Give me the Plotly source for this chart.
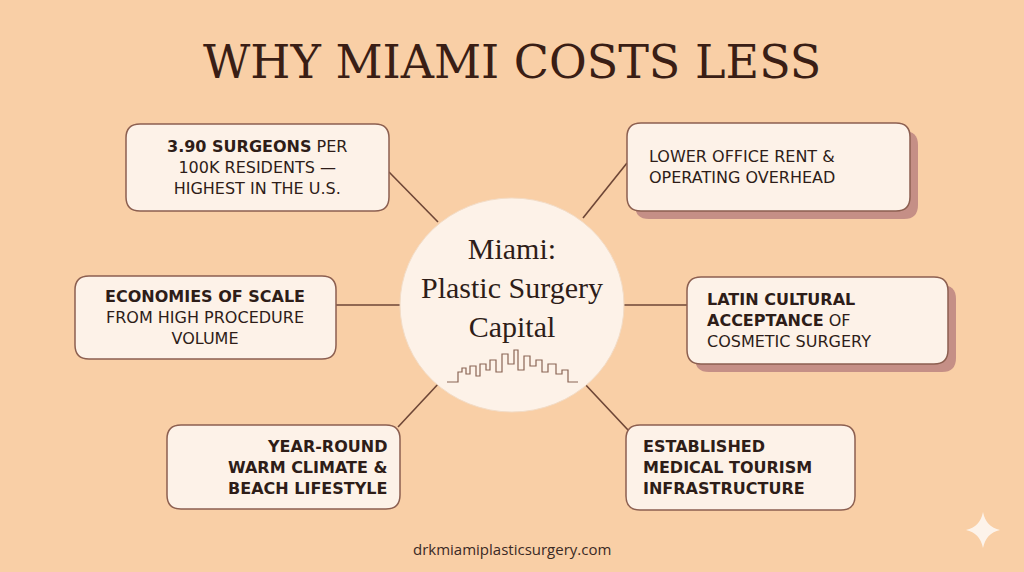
import plotly.graph_objects as go

W, H = 1024, 572
BG = "#f9cfa6"
INK = "#2e1d18"
EDGE = "#8c5f50"
FILL = "#fdf2e8"
SHADOW = "#c58f86"

title = "WHY MIAMI COSTS LESS"
center_lines = ["Miami:", "Plastic Surgery", "Capital"]
footer = "drkmiamiplasticsurgery.com"

# box texts (bold part first, then regular)
box_lines = [
    ["<b>3.90 SURGEONS</b> PER", "100K RESIDENTS —", "HIGHEST IN THE U.S."],
    ["LOWER OFFICE RENT &", "OPERATING OVERHEAD"],
    ["<b>ECONOMIES OF SCALE</b>", "FROM HIGH PROCEDURE", "VOLUME"],
    ["<b>LATIN CULTURAL</b>", "<b>ACCEPTANCE</b> OF", "COSMETIC SURGERY"],
    ["<b>YEAR-ROUND</b>", "<b>WARM CLIMATE &</b>", "<b>BEACH LIFESTYLE</b>"],
    ["<b>ESTABLISHED</b>", "<b>MEDICAL TOURISM</b>", "<b>INFRASTRUCTURE</b>"],
]
# layout: x0, y0, x1, y1, shadow, text anchor x, align
box_geo = [
    (126, 124, 389, 211, False, 257, "center"),
    (627, 123, 910, 211, True, 647, "left"),
    (75, 276, 336, 359, False, 205, "center"),
    (687, 277, 948, 364, True, 705, "left"),
    (167, 425, 400, 509, False, 389, "right"),
    (626, 425, 855, 510, False, 641, "left"),
]
connectors = [
    ((389, 172), (438, 222)),
    ((627, 163), (583, 218)),
    ((336, 305), (401, 305)),
    ((623, 305), (687, 305)),
    ((440, 382), (398, 427)),
    ((583, 382), (628, 430)),
]
skyline_x = [447, 458, 458, 462, 462, 466, 466, 470, 470, 476, 476, 480, 480, 486, 486, 490, 490, 496, 496,
             502, 502, 508, 508, 514, 514, 518, 518, 524, 524, 530, 530, 536, 536, 542, 542, 548, 548, 556,
             556, 562, 562, 568, 568, 578]
skyline_y = [382, 382, 372, 372, 368, 368, 374, 374, 366, 366, 376, 376, 364, 364, 370, 370, 360, 360, 372,
             372, 354, 354, 364, 364, 350, 350, 370, 370, 356, 356, 366, 366, 360, 360, 372, 372, 364, 364,
             374, 374, 370, 370, 382, 382]


def rrect(x0, y0, x1, y1, r=14):
    return (f"M{x0+r},{y0} L{x1-r},{y0} Q{x1},{y0} {x1},{y0+r} L{x1},{y1-r} Q{x1},{y1} {x1-r},{y1} "
            f"L{x0+r},{y1} Q{x0},{y1} {x0},{y1-r} L{x0},{y0+r} Q{x0},{y0} {x0+r},{y0} Z")


fig = go.Figure()
shapes = []
annotations = []

for (a, b) in connectors:
    shapes.append(dict(type="line", x0=a[0], y0=a[1], x1=b[0], y1=b[1], layer="below",
                       line=dict(color="#6e4636", width=1.6)))

shapes.append(dict(type="circle", x0=400, y0=198, x1=624, y1=412, layer="below",
                   fillcolor=FILL, line=dict(color="#f3dcc6", width=1)))

for lines, (x0, y0, x1, y1, sh, tx, al) in zip(box_lines, box_geo):
    if sh:
        shapes.append(dict(type="path", path=rrect(x0 + 8, y0 + 8, x1 + 8, y1 + 8), fillcolor=SHADOW, line=dict(width=0)))
    shapes.append(dict(type="path", path=rrect(x0, y0, x1, y1), fillcolor=FILL, line=dict(color=EDGE, width=1.5)))
    annotations.append(dict(x=tx, y=(y0 + y1) / 2, text="<br>".join(lines), showarrow=False, xanchor=al,
                            yanchor="middle", align=al, font=dict(family="DejaVu Sans", size=16, color=INK)))

# sparkle
shapes.append(dict(type="path",
                   path="M983,512 Q986,527 1000,530 Q986,533 983,548 Q980,533 966,530 Q980,527 983,512 Z",
                   fillcolor="#fdf3ea", line=dict(width=0)))

fig.add_trace(go.Scatter(x=skyline_x, y=skyline_y, mode="lines", line=dict(color="#8a6454", width=1.2),
                         hoverinfo="skip"))

annotations.append(dict(x=512, y=62, text=title, showarrow=False,
                        font=dict(family="DejaVu Serif", size=46, color="#3a1e15")))
annotations.append(dict(x=512, y=287, text="<br>".join(center_lines), showarrow=False,
                        font=dict(family="Liberation Serif", size=30, color=INK)))
annotations.append(dict(x=512, y=549, text=footer, showarrow=False,
                        font=dict(family="Open Sans", size=15, color="#3b2a25")))

fig.update_layout(
    width=W, height=H, margin=dict(l=0, r=0, t=0, b=0),
    paper_bgcolor=BG, plot_bgcolor=BG, showlegend=False,
    xaxis=dict(range=[0, W], visible=False, fixedrange=True),
    yaxis=dict(range=[H, 0], visible=False, fixedrange=True),
    shapes=shapes, annotations=annotations,
)
fig.write_html("out.html", post_script="document.body.style.margin='0';",
               config={"displayModeBar": False})
